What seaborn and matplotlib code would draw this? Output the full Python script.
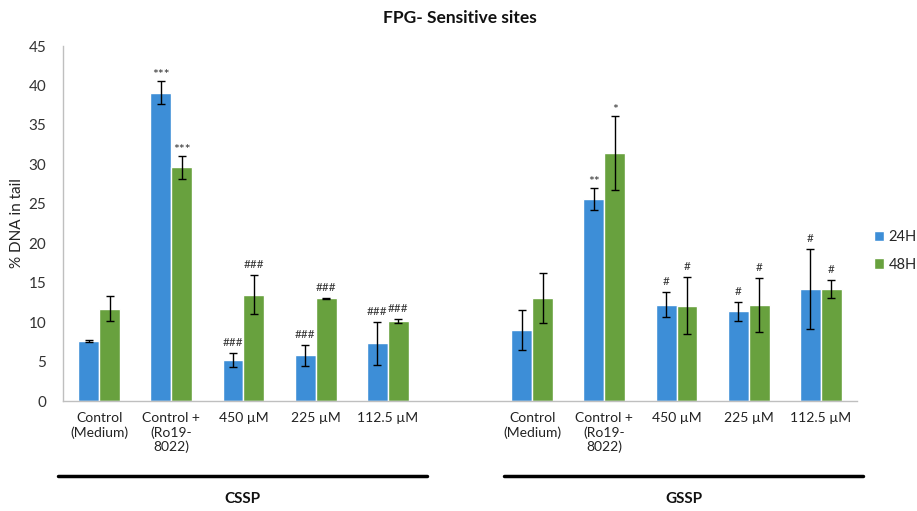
import matplotlib
matplotlib.use("Agg")
import numpy as np
import pandas as pd
import matplotlib.pyplot as plt
import matplotlib.transforms as mtransforms
from matplotlib.lines import Line2D
from matplotlib.patches import Patch
import seaborn as sns

# ---- data -------------------------------------------------------------
treatments = ["Control\n(Medium)", "Control +\n(Ro19-\n8022)", "450 µM", "225 µM", "112.5 µM"]
groups = ["CSSP", "GSSP"]
times = ["24H", "48H"]

cssp_24 = [7.6, 39.1, 5.2, 5.8, 7.3]
cssp_24_err = [0.1, 1.45, 0.85, 1.3, 2.75]
cssp_48 = [11.7, 29.6, 13.5, 13.0, 10.2]
cssp_48_err = [1.55, 1.45, 2.5, 0.1, 0.25]
gssp_24 = [9.0, 25.6, 12.2, 11.4, 14.2]
gssp_24_err = [2.55, 1.45, 1.6, 1.2, 5.1]
gssp_48 = [13.1, 31.4, 12.1, 12.2, 14.2]
gssp_48_err = [3.15, 4.7, 3.65, 3.4, 1.1]

cssp_24_sig = ["", "***", "###", "###", "###"]
cssp_48_sig = ["", "***", "###", "###", "###"]
gssp_24_sig = ["", "**", "#", "#", "#"]
gssp_48_sig = ["", "*", "#", "#", "#"]

yticks = [0, 5, 10, 15, 20, 25, 30, 35, 40, 45]

BLUE = "#3D8ED7"
GREEN = "#68A13E"

# ---- tidy table -------------------------------------------------------
series = {
    ("CSSP", "24H"): (cssp_24, cssp_24_err, cssp_24_sig),
    ("CSSP", "48H"): (cssp_48, cssp_48_err, cssp_48_sig),
    ("GSSP", "24H"): (gssp_24, gssp_24_err, gssp_24_sig),
    ("GSSP", "48H"): (gssp_48, gssp_48_err, gssp_48_sig),
}
rows = []
for (grp, t), (vals, errs, sigs) in series.items():
    for tr, v, e, s in zip(treatments, vals, errs, sigs):
        rows.append({"key": f"{grp}|{tr}", "group": grp, "treatment": tr,
                     "time": t, "value": v, "err": e, "sig": s})
df = pd.DataFrame(rows)

gap_key = "gap"
order = [f"CSSP|{t}" for t in treatments] + [gap_key] + [f"GSSP|{t}" for t in treatments]

# ---- figure -----------------------------------------------------------
sns.set_theme(style="white")
plt.rcParams["font.family"] = ["Lato", "DejaVu Sans"]

fig = plt.figure(figsize=(9.17, 5.11), dpi=100)
ax = fig.add_axes([63 / 917, 1 - 401 / 511, (857 - 63) / 917, 355 / 511])

sns.barplot(data=df, x="key", y="value", hue="time", order=order,
            hue_order=times, palette=[BLUE, GREEN], width=0.58,
            errorbar=None, saturation=1, legend=False, ax=ax)

# error bars and significance marks on top of each bar
lookup = df.set_index(["key", "time"])
for container, t in zip(ax.containers, times):
    for patch in container.patches:
        xc = patch.get_x() + patch.get_width() / 2
        pos = int(round(xc))
        key = order[pos]
        if key == gap_key:
            continue
        rec = lookup.loc[(key, t)]
        ax.errorbar(xc, rec["value"], yerr=rec["err"], fmt="none",
                    ecolor="black", elinewidth=1, capsize=3, capthick=1, zorder=3)
        sig = rec["sig"]
        if sig:
            star = sig.startswith("*")
            ax.annotate(sig, (xc, rec["value"] + rec["err"]),
                        xytext=(0, 1.5 if star else 5), textcoords="offset points",
                        ha="center", va="baseline",
                        fontsize=10 if star else 8.5, color="#333333")

ax.set_ylim(0, 45)
ax.set_xlim(-0.5, len(order) - 0.5)
ax.set_yticks(yticks)
ax.set_yticklabels([str(v) for v in yticks], fontsize=11, color="#333333")
ax.set_xticks(range(len(order)))
ax.set_xticklabels([("" if k == gap_key else k.split("|", 1)[1]) for k in order],
                   fontsize=10, color="#222222", linespacing=1.2, va="top")
ax.tick_params(axis="both", length=0)
ax.tick_params(axis="x", pad=8)
ax.tick_params(axis="y", pad=12)
ax.set_xlabel("")
ax.set_ylabel("% DNA in tail", fontsize=11, color="#222222", labelpad=3)

for side in ["top", "right"]:
    ax.spines[side].set_visible(False)
for side in ["left", "bottom"]:
    ax.spines[side].set_color("#BFBFBF")
    ax.spines[side].set_linewidth(1)

# group brackets below the axis
trans = mtransforms.blended_transform_factory(ax.transData, ax.transAxes)
ybar = (401 - 476) / 355
ylab = (401 - 499) / 355
for grp, (x0, x1) in zip(groups, [(-0.57, 4.54), (5.61, 10.59)]):
    ax.add_line(Line2D([x0, x1], [ybar, ybar], transform=trans, color="black",
                       linewidth=2.5, clip_on=False))
    ax.text((x0 + x1) / 2, ylab, grp, transform=trans, ha="center", va="center",
            fontsize=11, fontweight="bold", color="#111111")

fig.text(460 / 917, 1 - 18 / 511, "FPG- Sensitive sites", ha="center", va="center",
         fontsize=12.5, fontweight="bold", color="#111111")

handles = [Patch(facecolor=BLUE, label="24H"), Patch(facecolor=GREEN, label="48H")]
fig.legend(handles=handles, loc="center left", bbox_to_anchor=(874 / 917, 1 - 251 / 511),
           frameon=False, fontsize=10.5, handlelength=0.7, handleheight=0.7,
           handletextpad=0.3, labelspacing=0.9, borderaxespad=0, borderpad=0)

fig.savefig("out.png", dpi=100)
